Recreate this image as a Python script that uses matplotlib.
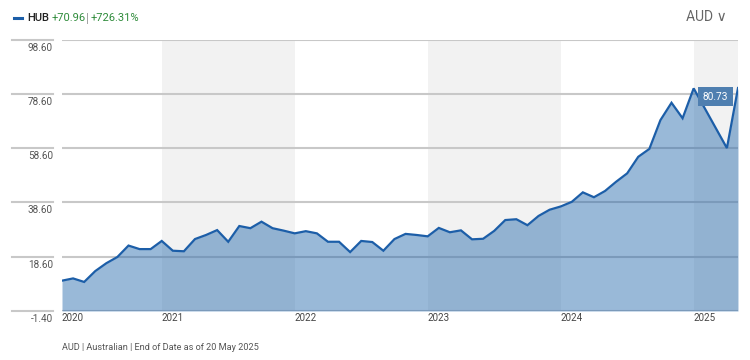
import matplotlib
matplotlib.use("Agg")
import matplotlib.pyplot as plt
import matplotlib.transforms as mtransforms

plt.rcParams['font.family'] = ['Roboto', 'DejaVu Sans']

# ---- data ----
dates = ["2020-04", "2020-05", "2020-06", "2020-07", "2020-08", "2020-09", "2020-10", "2020-11", "2020-12",
         "2021-01", "2021-02", "2021-03", "2021-04", "2021-05", "2021-06", "2021-07", "2021-08", "2021-09",
         "2021-10", "2021-11", "2021-12",
         "2022-01", "2022-02", "2022-03", "2022-04", "2022-05", "2022-06", "2022-07", "2022-08", "2022-09",
         "2022-10", "2022-11", "2022-12",
         "2023-01", "2023-02", "2023-03", "2023-04", "2023-05", "2023-06", "2023-07", "2023-08", "2023-09",
         "2023-10", "2023-11", "2023-12",
         "2024-01", "2024-02", "2024-03", "2024-04", "2024-05", "2024-06", "2024-07", "2024-08", "2024-09",
         "2024-10", "2024-11", "2024-12",
         "2025-01", "2025-04", "2025-05"]
values = [9.77, 10.6, 9.3, 13.3, 16.2, 18.5, 22.7, 21.4, 21.4,
          24.4, 20.8, 20.6, 25.1, 26.6, 28.4, 24.1, 29.9, 29.1,
          31.5, 29.1, 28.2,
          27.2, 28.0, 27.2, 24.1, 24.1, 20.3, 24.4, 24.0, 20.8,
          25.1, 27.0, 26.6,
          26.1, 29.2, 27.6, 28.3, 25.0, 25.2, 28.1, 32.1, 32.4,
          30.2, 33.6, 35.9,
          37.1, 38.8, 42.3, 40.5, 42.8, 46.2, 49.3, 55.4, 58.3,
          68.9, 75.3, 69.6,
          80.6, 58.6, 80.73]
years = [2020, 2021, 2022, 2023, 2024, 2025]
yticks = [-1.40, 18.60, 38.60, 58.60, 78.60, 98.60]
ticker = "HUB"
change_abs = "+70.96"
change_pct = "+726.31%"
currency = "AUD"
footer = "AUD | Australian | End of Date as of 20 May 2025"

def to_num(d):
    y, m = d.split("-")
    return int(y) + (int(m) - 1) / 12.0

x = [to_num(d) for d in dates]
x0, x1 = x[0], x[-1]

W, H = 750, 360
fig = plt.figure(figsize=(7.5, 3.6), dpi=100)
L, R, T, B = 62, 738, 39.5, 311
ax = fig.add_axes([L / W, 1 - B / H, (R - L) / W, (B - T) / H])
ax.set_xlim(x0, x1)
ax.set_ylim(yticks[0], yticks[-1])
for s in ax.spines.values():
    s.set_visible(False)
ax.set_xticks([])
ax.set_yticks([])

# alternate year bands
for i, yr in enumerate(years):
    if i % 2 == 1:
        ax.axvspan(max(yr, x0), min(yr + 1, x1), color="#f2f2f2", zorder=0, lw=0)

# gridlines (plot area + left label area)
ytr = ax.get_yaxis_transform()
for v in yticks:
    ax.axhline(v, color="#c8c8c8", lw=1.5, zorder=1)
    ax.plot([-50 / (R - L), -9 / (R - L)], [v, v], transform=ytr, color="#c8c8c8",
            lw=1.5, clip_on=False, zorder=1)
    off = mtransforms.offset_copy(ytr, fig=fig, x=0, y=-8, units="dots")
    ax.text(-9 / (R - L), v, f"{v:.2f}", transform=off, ha="right", va="center",
            fontsize=7.2, color="#555555")

# area + line
ax.fill_between(x, values, yticks[0], color=(30 / 255, 100 / 255, 170 / 255), alpha=0.45,
                lw=0, zorder=2)
ax.plot(x, values, color="#1c5ea8", lw=1.6, zorder=3, solid_joinstyle="miter")

# x labels
xtr = ax.get_xaxis_transform()
for yr in years:
    xpos = max(yr, x0)
    off = mtransforms.offset_copy(xtr, fig=fig, x=0, y=-7, units="dots")
    ax.text(xpos, 0, str(yr), transform=off, ha="left", va="center", fontsize=7,
            color="#444444")

# last value label
ax.text(x1, values[-1], f"{values[-1]:.2f}",
        transform=mtransforms.offset_copy(ax.transData, fig=fig, x=-10, y=-8.5, units="dots"),
        ha="right", va="center", fontsize=7.3, color="white", zorder=5,
        bbox=dict(boxstyle="square,pad=0.45", fc="#4f7fb0", ec="none"))

# header
fig.lines.append(plt.Line2D([14 / W, 22 / W], [1 - 18 / H, 1 - 18 / H], transform=fig.transFigure,
                            color="#1c5ea8", lw=2.2))
fig.text(27 / W, 1 - 18 / H, ticker, fontsize=8, color="#222222", va="center",
         fontweight="medium")
fig.text(52 / W, 1 - 18 / H, change_abs, fontsize=8, color="#2e8b3a", va="center")
fig.text(86 / W, 1 - 18 / H, "|", fontsize=8.5, color="#999999", va="center")
fig.text(91 / W, 1 - 18 / H, change_pct, fontsize=8, color="#2e8b3a", va="center")
fig.text(727 / W, 1 - 17 / H, currency + " \u2228", fontsize=10, color="#666666",
         va="center", ha="right")

# footer
fig.text(62 / W, 1 - 348 / H, footer, fontsize=6.6, color="#555555", va="center")

fig.savefig("out.png", dpi=100)
